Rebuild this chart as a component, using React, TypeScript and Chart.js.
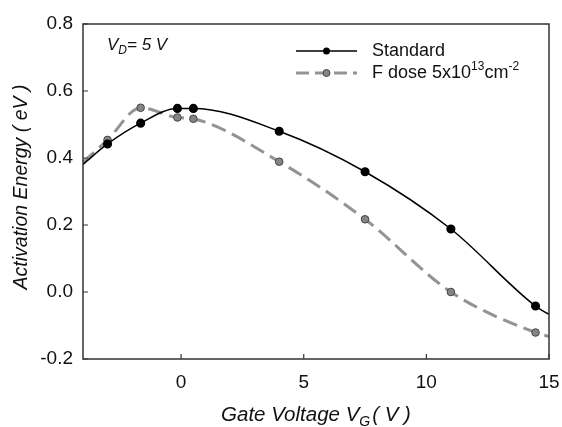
import React, { useEffect, useRef } from "react";
import { Chart, registerables } from "chart.js";
Chart.register(...registerables);

// Gate voltage (V) and activation energy (eV); first/last entries are the fitted-curve ends at the frame edges
const standardX = [-4, -3.0, -1.65, -0.15, 0.5, 4.0, 7.5, 11.0, 14.45, 15];
const standardY = [0.381, 0.442, 0.504, 0.548, 0.548, 0.48, 0.359, 0.188, -0.042, -0.067];
const fDoseX = [-4, -3.0, -1.65, -0.15, 0.5, 4.0, 7.5, 11.0, 14.45, 15];
const fDoseY = [0.387, 0.454, 0.55, 0.521, 0.517, 0.389, 0.217, 0.0, -0.121, -0.133];
const measured = [false, true, true, true, true, true, true, true, true, false];
const xTicks = [0, 5, 10, 15];
const yTicks = [-0.2, 0.0, 0.2, 0.4, 0.6, 0.8];

const FONT = "'Liberation Sans', Arial, sans-serif";
const FRAME = "#333333";
const GRAY_LINE = "#939393";
const GRAY_FILL = "#858585";

const decorations = {
  id: "decorations",
  afterDraw(chart: any) {
    const ctx = chart.ctx as CanvasRenderingContext2D;
    const a = chart.chartArea;
    const xs = chart.scales.x;
    const ys = chart.scales.y;
    ctx.save();
    // frame
    ctx.strokeStyle = FRAME;
    ctx.lineWidth = 1.5;
    ctx.strokeRect(a.left, a.top, a.right - a.left, a.bottom - a.top);
    // inward ticks
    ctx.lineWidth = 1.2;
    ctx.beginPath();
    xTicks.forEach((v) => {
      const px = xs.getPixelForValue(v);
      ctx.moveTo(px, a.bottom);
      ctx.lineTo(px, a.bottom - 5);
    });
    yTicks.forEach((v) => {
      const py = ys.getPixelForValue(v);
      ctx.moveTo(a.left, py);
      ctx.lineTo(a.left + 5, py);
    });
    ctx.stroke();

    ctx.fillStyle = "#111";
    ctx.textBaseline = "alphabetic";
    // V_D = 5 V annotation
    let x = a.left + 24;
    let y = a.top + 26;
    ctx.font = `italic 17px ${FONT}`;
    ctx.textAlign = "left";
    ctx.fillText("V", x, y);
    x += ctx.measureText("V").width;
    ctx.font = `italic 12px ${FONT}`;
    ctx.fillText("D", x, y + 4);
    x += ctx.measureText("D").width;
    ctx.font = `italic 17px ${FONT}`;
    ctx.fillText("= 5 V", x, y);

    // legend
    const lx0 = a.left + 213;
    const lx1 = a.left + 274;
    const lmx = (lx0 + lx1) / 2;
    const ty = a.top + 27;
    const ty2 = a.top + 49;
    ctx.strokeStyle = "#000";
    ctx.lineWidth = 1.5;
    ctx.setLineDash([]);
    ctx.beginPath();
    ctx.moveTo(lx0, ty);
    ctx.lineTo(lx1, ty);
    ctx.stroke();
    ctx.fillStyle = "#000";
    ctx.beginPath();
    ctx.arc(lmx, ty, 3.5, 0, Math.PI * 2);
    ctx.fill();

    ctx.strokeStyle = GRAY_LINE;
    ctx.lineWidth = 3;
    ctx.setLineDash([13, 6]);
    ctx.beginPath();
    ctx.moveTo(lx0, ty2);
    ctx.lineTo(lx1, ty2);
    ctx.stroke();
    ctx.setLineDash([]);
    ctx.fillStyle = GRAY_FILL;
    ctx.strokeStyle = "#444";
    ctx.lineWidth = 1;
    ctx.beginPath();
    ctx.arc(lmx, ty2, 3.5, 0, Math.PI * 2);
    ctx.fill();
    ctx.stroke();

    ctx.fillStyle = "#111";
    ctx.textBaseline = "middle";
    ctx.font = `18px ${FONT}`;
    const tx = a.left + 289;
    ctx.fillText("Standard", tx, ty);
    let sx = tx;
    ctx.fillText("F dose 5x10", sx, ty2);
    sx += ctx.measureText("F dose 5x10").width;
    ctx.font = `12px ${FONT}`;
    ctx.fillText("13", sx, ty2 - 6);
    sx += ctx.measureText("13").width;
    ctx.font = `18px ${FONT}`;
    ctx.fillText("cm", sx, ty2);
    sx += ctx.measureText("cm").width;
    ctx.font = `12px ${FONT}`;
    ctx.fillText("-2", sx, ty2 - 6);

    // y title
    ctx.save();
    ctx.translate(22, 187);
    ctx.rotate(-Math.PI / 2);
    ctx.font = `italic 19.5px ${FONT}`;
    ctx.textAlign = "center";
    ctx.textBaseline = "middle";
    ctx.fillText("Activation Energy ( eV )", 0, 0);
    ctx.restore();

    // x title
    ctx.textBaseline = "alphabetic";
    ctx.textAlign = "left";
    const big = `italic 20.5px ${FONT}`;
    const small = `italic 14px ${FONT}`;
    ctx.font = big;
    const w1 = ctx.measureText("Gate Voltage V").width;
    const w3 = ctx.measureText("( V )").width;
    ctx.font = small;
    const w2 = ctx.measureText("G").width + 2;
    const total = w1 + w2 + w3;
    let gx = (a.left + a.right) / 2 - total / 2;
    const gy = 421;
    ctx.font = big;
    ctx.fillText("Gate Voltage V", gx, gy);
    gx += w1;
    ctx.font = small;
    ctx.fillText("G", gx, gy + 5);
    gx += w2;
    ctx.font = big;
    ctx.fillText("( V )", gx, gy);
    ctx.restore();
  },
};

export default function App() {
  const ref = useRef<HTMLCanvasElement | null>(null);
  useEffect(() => {
    if (!ref.current) return;
    const chart = new Chart(ref.current, {
      type: "line",
      data: {
        datasets: [
          {
            label: "Standard",
            data: standardX.map((x, i) => ({ x, y: standardY[i] })),
            borderColor: "#000",
            borderWidth: 1.5,
            backgroundColor: "#000",
            pointBackgroundColor: "#000",
            pointBorderColor: "#000",
            pointRadius: measured.map((m) => (m ? 3.8 : 0)),
            cubicInterpolationMode: "monotone",
            fill: false,
            order: 1,
          },
          {
            label: "F dose",
            data: fDoseX.map((x, i) => ({ x, y: fDoseY[i] })),
            borderColor: GRAY_LINE,
            borderWidth: 3,
            borderDash: [15, 7],
            backgroundColor: GRAY_FILL,
            pointBackgroundColor: GRAY_FILL,
            pointBorderColor: "#444",
            pointBorderWidth: 1,
            pointRadius: measured.map((m) => (m ? 3.8 : 0)),
            cubicInterpolationMode: "monotone",
            fill: false,
            order: 2,
          },
        ],
      },
      options: {
        animation: false,
        responsive: false,
        maintainAspectRatio: false,
        layout: { padding: { top: 24, right: 13, left: 0, bottom: 0 } },
        plugins: { legend: { display: false }, tooltip: { enabled: false } },
        scales: {
          x: {
            type: "linear",
            min: -4,
            max: 15,
            grid: { display: false, drawTicks: false },
            border: { display: false },
            afterBuildTicks: (s: any) => {
              s.ticks = xTicks.map((v) => ({ value: v }));
            },
            afterFit: (s: any) => {
              s.height = 68;
              s.paddingLeft = 0;
              s.paddingRight = 0;
            },
            ticks: {
              padding: 12,
              color: "#111",
              font: { family: FONT, size: 19 },
              maxRotation: 0,
              callback: (v: any) => String(v),
            },
          },
          y: {
            type: "linear",
            min: -0.2,
            max: 0.8,
            grid: { display: false, drawTicks: false },
            border: { display: false },
            afterBuildTicks: (s: any) => {
              s.ticks = yTicks.map((v) => ({ value: v }));
            },
            afterFit: (s: any) => {
              s.width = 83;
              s.paddingTop = 0;
              s.paddingBottom = 0;
            },
            ticks: {
              padding: 10,
              color: "#111",
              font: { family: FONT, size: 19 },
              callback: (v: any) => Number(v).toFixed(1),
            },
          },
        },
      },
      plugins: [decorations],
    } as any);
    return () => chart.destroy();
  }, []);
  return (
    <div style={{ position: "absolute", left: 0, top: 0, width: 562, height: 427, background: "#fff" }}>
      <canvas ref={ref} width={562} height={427} style={{ width: 562, height: 427, display: "block" }} />
    </div>
  );
}
